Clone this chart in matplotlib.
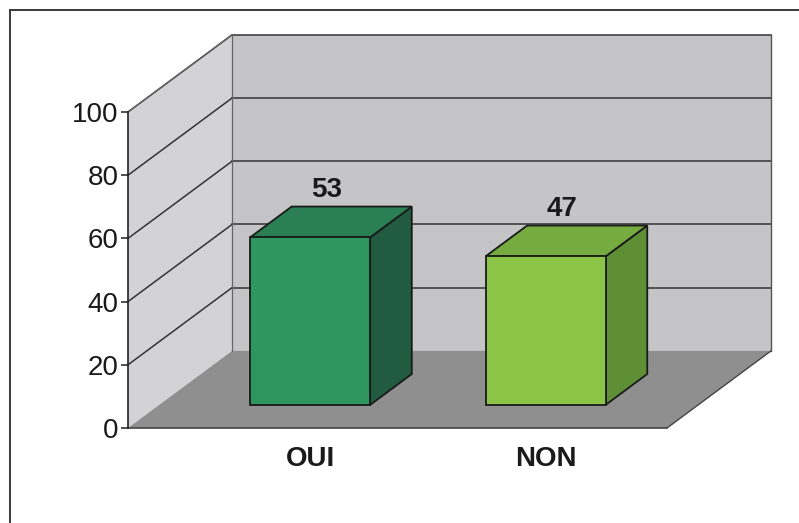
import matplotlib
matplotlib.use("Agg")
import matplotlib.pyplot as plt
from matplotlib.patches import Polygon
from matplotlib.lines import Line2D

plt.rcParams['font.family'] = ['Liberation Sans', 'DejaVu Sans']

# Data
categories = ["OUI", "NON"]
values = [53, 47]
yticks = [0, 20, 40, 60, 80, 100]

# Styling
front_colors = ["#2f9660", "#8cc447"]
top_colors = ["#2a8052", "#75ab3f"]
side_colors = ["#225c40", "#5f8f34"]
back_wall = "#c5c5c7"
side_wall = "#d3d3d5"
floor_col = "#8f8f8f"
edge = "#1a1a1a"
grid_col = "#333333"

# 3D box geometry (data units): depth projection offsets
depth_dx = 0.4416     # horizontal shift of the full depth, category units
depth_dy = 24.4       # vertical shift of the full depth, value units
bar_w = 0.51
bar_d0, bar_d1 = 0.3, 0.7   # bar spans this fraction of the depth
x0, x1 = -0.641, 1.648      # front plane extent
ymax = 100

fig = plt.figure(figsize=(7.99, 5.23), dpi=100)
ax = fig.add_axes([128 / 799, (523 - 428) / 523, 539 / 799, 316 / 523])
ax.set_xlim(x0, x1)
ax.set_ylim(0, ymax)
for s in ax.spines.values():
    s.set_visible(False)
ax.patch.set_visible(False)


def proj(x, y, d):
    return (x + d * depth_dx, y + d * depth_dy)


def poly(pts, fc, ec="none", lw=0.0, z=1):
    p = Polygon(pts, closed=True, facecolor=fc, edgecolor=ec, linewidth=lw,
                zorder=z, clip_on=False, joinstyle="miter")
    ax.add_patch(p)


# back wall
poly([proj(x0, 0, 1), proj(x1, 0, 1), proj(x1, ymax, 1), proj(x0, ymax, 1)],
     back_wall, z=1)
# side wall
poly([proj(x0, 0, 0), proj(x0, 0, 1), proj(x0, ymax, 1), proj(x0, ymax, 0)],
     side_wall, z=1)
# floor
poly([proj(x0, 0, 0), proj(x1, 0, 0), proj(x1, 0, 1), proj(x0, 0, 1)],
     floor_col, z=2)


def seg(p, q, color=grid_col, lw=1.0, z=3):
    ax.add_line(Line2D([p[0], q[0]], [p[1], q[1]], color=color, lw=lw,
                       zorder=z, clip_on=False))


# gridlines on the walls
for v in yticks[1:]:
    seg(proj(x0, v, 0), proj(x0, v, 1), lw=1.1)
    seg(proj(x0, v, 1), proj(x1, v, 1), lw=1.1)

# wall / floor outlines
seg(proj(x0, 0, 1), proj(x0, ymax, 1), color="#666666", lw=0.9)
seg(proj(x1, 0, 1), proj(x1, ymax, 1), color="#555555", lw=1.0)
seg(proj(x0, ymax, 0), proj(x0, ymax, 1), color="#666666", lw=1.0)
seg(proj(x1, 0, 0), proj(x1, 0, 1), color="#444444", lw=1.0)
seg(proj(x0, 0, 0), proj(x1, 0, 0), color="#444444", lw=1.2)
seg(proj(x0, 0, 0), proj(x0, ymax, 0), color="#222222", lw=1.2, z=6)

# bars
for i, (cat, val) in enumerate(zip(categories, values)):
    xl, xr = i - bar_w / 2, i + bar_w / 2
    z = 10
    # right side
    poly([proj(xr, 0, bar_d0), proj(xr, 0, bar_d1), proj(xr, val, bar_d1),
          proj(xr, val, bar_d0)], side_colors[i], edge, 1.3, z)
    # top
    poly([proj(xl, val, bar_d0), proj(xr, val, bar_d0), proj(xr, val, bar_d1),
          proj(xl, val, bar_d1)], top_colors[i], edge, 1.3, z)
    # front
    poly([proj(xl, 0, bar_d0), proj(xr, 0, bar_d0), proj(xr, val, bar_d0),
          proj(xl, val, bar_d0)], front_colors[i], edge, 1.3, z + 1)
    # value label above the bar
    lx, ly = proj(i, val, (bar_d0 + bar_d1) / 2)
    ax.text(lx - 0.02, ly + 10, str(val), ha="center", va="center",
            fontsize=20, fontweight="bold", color="#1a1a1a", zorder=12,
            clip_on=False)

# category labels under the bar fronts
ax.set_xticks([proj(i, 0, bar_d0)[0] for i in range(len(categories))])
ax.set_xticklabels(categories, fontsize=20, fontweight="bold", color="#1a1a1a")
ax.tick_params(axis="x", length=0, pad=13)

ax.set_yticks(yticks)
ax.set_yticklabels([str(t) for t in yticks], fontsize=20, color="#1a1a1a")
ax.tick_params(axis="y", direction="out", length=5, width=1.1,
               color="#222222", pad=2)

# outer frame
fig.add_artist(Line2D([10 / 799, 1.0], [1 - 10 / 523, 1 - 10 / 523],
                      transform=fig.transFigure, color="#3a3a3a", lw=1.4))
fig.add_artist(Line2D([10 / 799, 10 / 799], [0.0, 1 - 10 / 523],
                      transform=fig.transFigure, color="#3a3a3a", lw=1.4))

fig.savefig("out.png", dpi=100, facecolor="white")
